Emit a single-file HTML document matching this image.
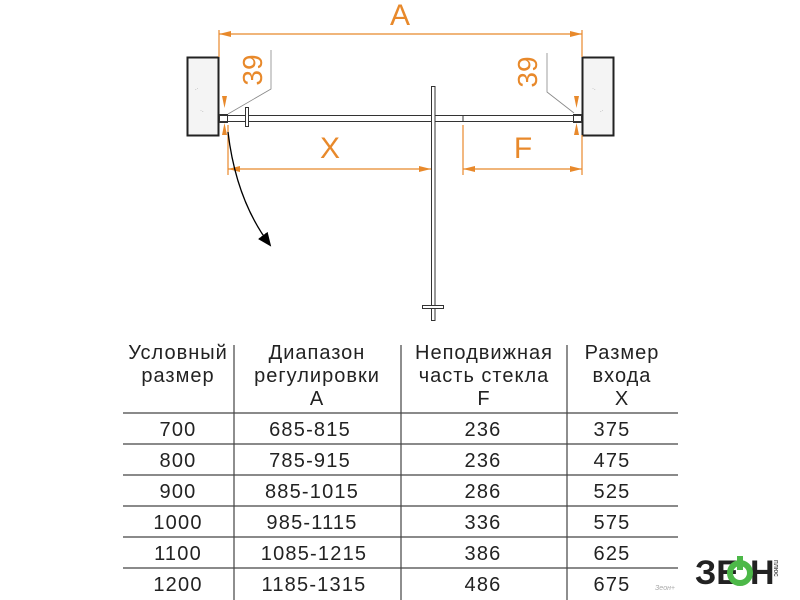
<!DOCTYPE html>
<html><head><meta charset="utf-8"><style>
body{margin:0;background:#fff}
svg{display:block}
text{font-family:"Liberation Sans","DejaVu Sans",sans-serif}
</style></head><body>
<svg width="800" height="600" viewBox="0 0 800 600" xmlns="http://www.w3.org/2000/svg">
<defs>
<marker id="ao" markerWidth="12" markerHeight="8" refX="12" refY="4" orient="auto-start-reverse" markerUnits="userSpaceOnUse"><path d="M0,1 L12,4 L0,7 Z" fill="#e8892b"/></marker>
<marker id="ab" markerWidth="14" markerHeight="12" refX="12" refY="6" orient="auto" markerUnits="userSpaceOnUse"><path d="M0,0 L14,6 L0,12 Z" fill="#000"/></marker>
</defs>
<rect x="187.5" y="57.5" width="31" height="78" fill="#f4f4f4" stroke="#222" stroke-width="2"/>
<rect x="582.5" y="57.5" width="31" height="78" fill="#f4f4f4" stroke="#222" stroke-width="2"/>
<g fill="#999" font-size="6"><text x="195" y="90">.·</text><text x="200" y="112">·.</text><text x="592" y="90">·.</text><text x="600" y="112">.·</text></g>
<g stroke="#e8892b" stroke-width="1.2" fill="none">
<line x1="219" y1="30" x2="219" y2="57"/><line x1="582" y1="30" x2="582" y2="57"/>
<line x1="219" y1="34" x2="582" y2="34" marker-start="url(#ao)" marker-end="url(#ao)"/>
<line x1="228" y1="125" x2="228" y2="175"/><line x1="463" y1="125" x2="463" y2="175"/><line x1="582" y1="135" x2="582" y2="175"/>
<line x1="228" y1="169" x2="431" y2="169" marker-start="url(#ao)" marker-end="url(#ao)"/>
<line x1="463" y1="169" x2="582" y2="169" marker-start="url(#ao)" marker-end="url(#ao)"/>
</g>
<g fill="#e8892b">
<path d="M222,96 L227,96 L224.5,108Z"/><path d="M222,135 L227,135 L224.5,123Z"/>
<path d="M574,96 L579,96 L576.5,108Z"/><path d="M574,135 L579,135 L576.5,123Z"/>
</g>
<g stroke="#888" stroke-width="0.8" fill="none">
<polyline points="271,50 271,89 228,114"/>
<polyline points="547,53 547,92 574,113"/>
</g>
<g fill="#e8892b" font-size="30">
<text x="400" y="25" text-anchor="middle">A</text>
<text x="330" y="158" text-anchor="middle">X</text>
<text x="523" y="158" text-anchor="middle">F</text>
<text transform="translate(262,70) rotate(-90)" text-anchor="middle" font-size="28">39</text>
<text transform="translate(537,72) rotate(-90)" text-anchor="middle" font-size="28">39</text>
</g>
<rect x="219.5" y="115.5" width="362" height="6" fill="#fff" stroke="#333" stroke-width="1"/>
<line x1="463" y1="115" x2="463" y2="122" stroke="#333"/>
<rect x="219.5" y="114.5" width="8" height="8" fill="none" stroke="#333"/>
<rect x="573.5" y="114.5" width="8" height="8" fill="none" stroke="#333"/>
<rect x="245.5" y="107.5" width="3" height="19" fill="#fff" stroke="#333"/>
<rect x="431.5" y="86.5" width="3.5" height="234" fill="#fff" stroke="#333"/>
<rect x="422.5" y="305.5" width="21" height="3" fill="#fff" stroke="#333"/>
<path d="M228,132 Q236,200 270,245" stroke="#000" stroke-width="1.3" fill="none" marker-end="url(#ab)"/>
<g stroke="#444" stroke-width="1.2">
<line x1="123" y1="413" x2="678" y2="413"/><line x1="123" y1="444" x2="678" y2="444"/>
<line x1="123" y1="475" x2="678" y2="475"/><line x1="123" y1="506" x2="678" y2="506"/>
<line x1="123" y1="537" x2="678" y2="537"/><line x1="123" y1="568" x2="678" y2="568"/>
<line x1="234" y1="345" x2="234" y2="600"/><line x1="401" y1="345" x2="401" y2="600"/><line x1="567" y1="345" x2="567" y2="600"/>
</g>
<g font-size="20" fill="#222" text-anchor="middle" letter-spacing="1">
<text x="178" y="359">Условный</text><text x="178" y="382">размер</text>
<text x="317" y="359">Диапазон</text><text x="317" y="382">регулировки</text><text x="317" y="405">A</text>
<text x="484" y="359">Неподвижная</text><text x="484" y="382">часть стекла</text><text x="484" y="405">F</text>
<text x="622" y="359">Размер</text><text x="622" y="382">входа</text><text x="622" y="405">X</text>
</g>
<g font-size="20" fill="#222" text-anchor="middle" letter-spacing="1.2">
<text x="178" y="436">700</text><text x="310" y="436">685-815</text><text x="483" y="436">236</text><text x="612" y="436">375</text>
<text x="178" y="467">800</text><text x="310" y="467">785-915</text><text x="483" y="467">236</text><text x="612" y="467">475</text>
<text x="178" y="498">900</text><text x="312" y="498">885-1015</text><text x="483" y="498">286</text><text x="612" y="498">525</text>
<text x="178" y="529">1000</text><text x="312" y="529">985-1115</text><text x="483" y="529">336</text><text x="612" y="529">575</text>
<text x="178" y="560">1100</text><text x="314" y="560">1085-1215</text><text x="483" y="560">386</text><text x="612" y="560">625</text>
<text x="178" y="591">1200</text><text x="314" y="591">1185-1315</text><text x="483" y="591">486</text><text x="612" y="591">675</text>
</g>
<g font-weight="bold" font-size="34" fill="#222"><text x="695" y="584">ЗЕ</text><text x="750" y="584">Н</text></g>
<circle cx="740" cy="573" r="10" fill="none" stroke="#4cb848" stroke-width="6"/>
<rect x="737" y="556" width="6" height="14" fill="#4cb848"/>
<text transform="translate(774,560) rotate(90)" font-size="7" fill="#222">плюс</text>
<text x="655" y="590" font-size="7" fill="#aaa" font-style="italic">Зеон+</text>
</svg>
</body></html>
